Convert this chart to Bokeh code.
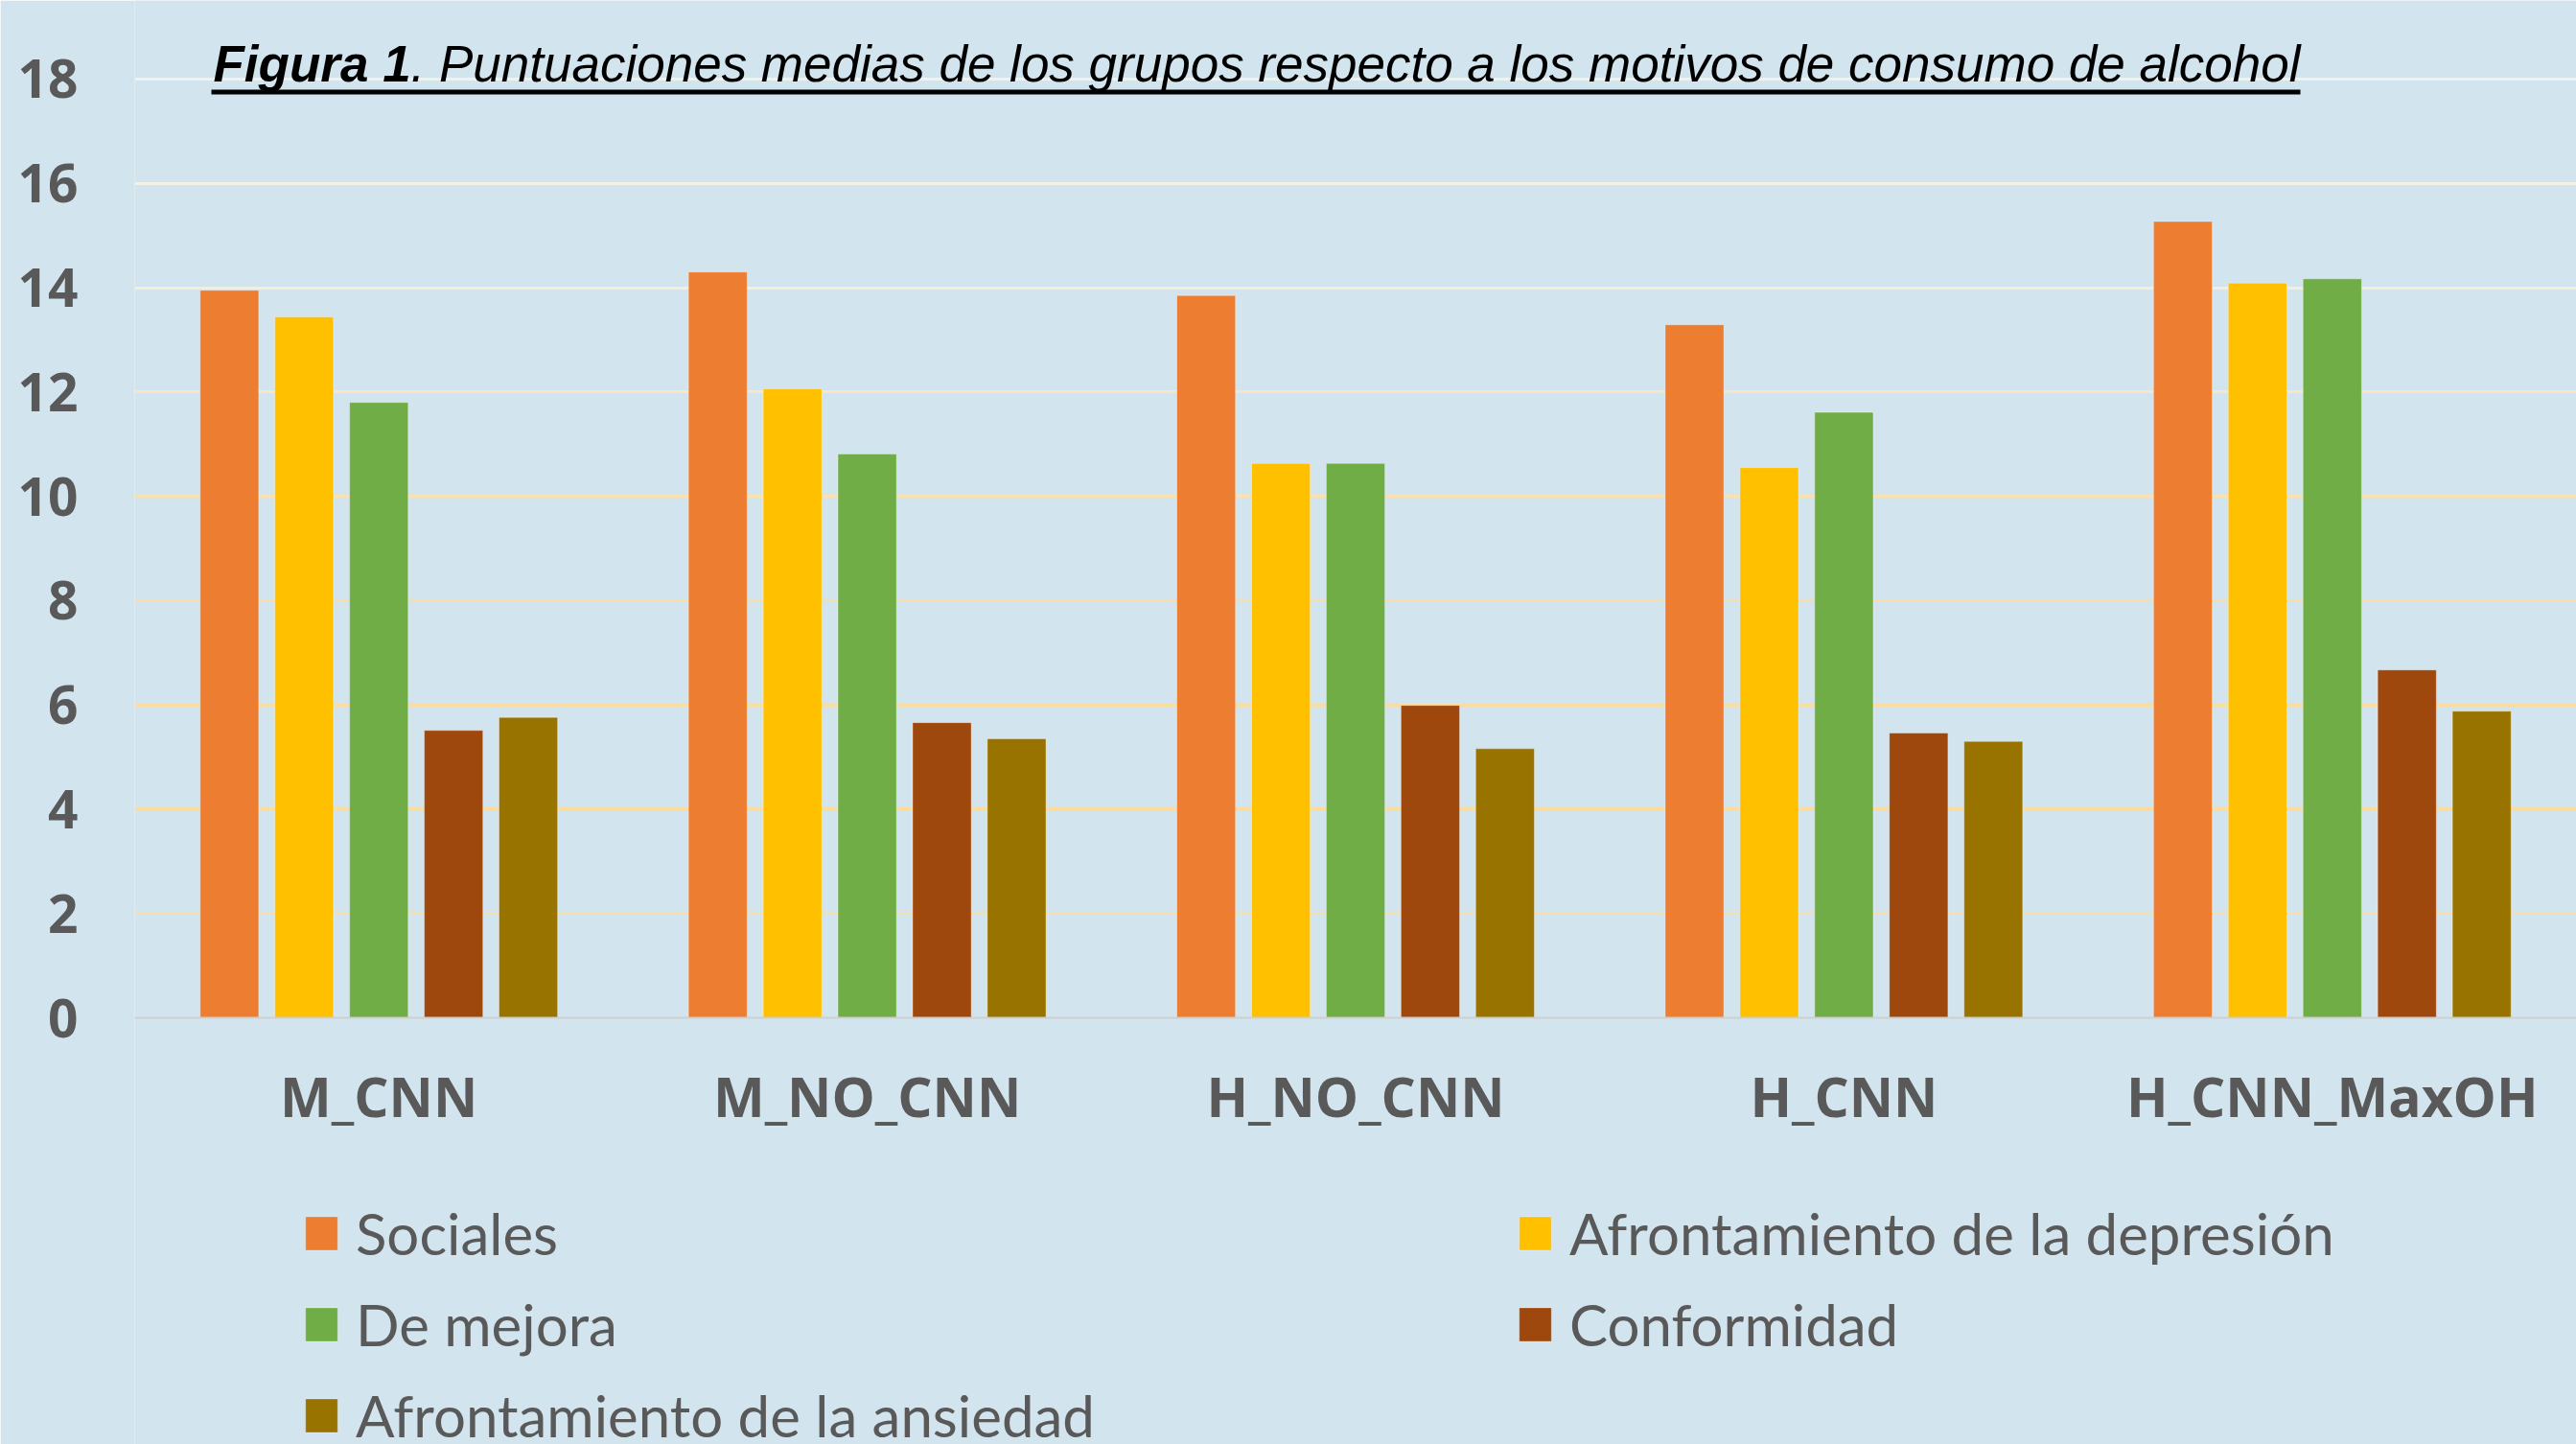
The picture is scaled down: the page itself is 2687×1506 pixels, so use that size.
from bokeh.plotting import figure
from bokeh.models import (FactorRange, Range1d, FixedTicker, Grid, Legend, LegendItem,
                          Label, BoxAnnotation, ColumnDataSource)
from bokeh.transform import dodge
from bokeh.embed import file_html
from bokeh.resources import INLINE

# ---------------- data ----------------
groups = ["M_CNN", "M_NO_CNN", "H_NO_CNN", "H_CNN", "H_CNN_MaxOH"]
series_names = ["Sociales", "Afrontamiento de la depresión", "De mejora",
                "Conformidad", "Afrontamiento de la ansiedad"]
sociales = [13.95, 14.30, 13.85, 13.29, 15.27]
depresion = [13.44, 12.06, 10.63, 10.55, 14.09]
mejora = [11.80, 10.81, 10.63, 11.61, 14.17]
conformidad = [5.51, 5.66, 5.99, 5.46, 6.67]
ansiedad = [5.76, 5.35, 5.16, 5.30, 5.88]
y_ticks = [0, 2, 4, 6, 8, 10, 12, 14, 16, 18]
title_bold = "Figura 1"
title_rest = ". Puntuaciones medias de los grupos  respecto a los motivos de consumo de alcohol"

# ---------------- style ----------------
colors = ["#ED7D31", "#FFC000", "#70AD47", "#9E480E", "#997300"]
grid_colors = {2: "#FADFA8", 4: "#FADC9F", 6: "#FADBA0", 8: "#FADDA6", 10: "#FAE1B2",
               12: "#FAE6C4", 14: "#F8EDD8", 16: "#F5F0E4", 18: "#F2F1EC"}
BG = "#D2E4EE"
TXT = "#595959"

W, H = 2687, 1506
FRAME_LEFT = 140
ZERO_Y = 1061          # canvas pixel row of value 0
PX_PER_UNIT = 54.39

p = figure(width=W, height=H, x_range=FactorRange(*groups),
           y_range=Range1d(-(H - ZERO_Y) / PX_PER_UNIT, ZERO_Y / PX_PER_UNIT),
           output_backend="svg", toolbar_location=None,
           min_border_left=FRAME_LEFT, min_border_right=0, min_border_top=0,
           min_border_bottom=0,
           background_fill_color=BG, border_fill_color=BG, outline_line_color=None)

p.xgrid.visible = False
p.ygrid.visible = False
for t in y_ticks[1:]:
    p.add_layout(Grid(dimension=1, ticker=FixedTicker(ticks=[t]),
                      grid_line_color=grid_colors[t], grid_line_width=3))

# axes
p.yaxis.ticker = FixedTicker(ticks=y_ticks)
p.yaxis.axis_line_color = None
p.yaxis.major_tick_line_color = None
p.yaxis.minor_tick_line_color = None
p.yaxis.major_tick_out = 0
p.yaxis.major_label_standoff = 59
p.yaxis.major_label_text_font = "Open Sans"
p.yaxis.major_label_text_font_style = "bold"
p.yaxis.major_label_text_font_size = "55px"
p.yaxis.major_label_text_color = TXT

p.xaxis.fixed_location = 0
p.xaxis.axis_line_color = "#CFCFCF"
p.xaxis.axis_line_width = 2
p.xaxis.major_tick_line_color = None
p.xaxis.minor_tick_line_color = None
p.xaxis.major_tick_out = 0
p.xaxis.major_label_standoff = 42
p.xaxis.major_label_text_font = "Open Sans"
p.xaxis.major_label_text_font_style = "bold"
p.xaxis.major_label_text_font_size = "57px"
p.xaxis.major_label_text_color = TXT

# bars
values = [sociales, depresion, mejora, conformidad, ansiedad]
step = 0.153
offsets = [(i - 2) * step for i in range(5)]
renderers = []
for i, (vals, col) in enumerate(zip(values, colors)):
    src = ColumnDataSource(dict(x=groups, top=vals))
    r = p.vbar(x=dodge("x", offsets[i], range=p.x_range), top="top", width=0.12,
               source=src, fill_color=col, line_color="white", line_alpha=0.35,
               line_width=1)
    renderers.append(r)

# legends
def make_legend(idx, loc):
    return Legend(items=[LegendItem(label=series_names[i], renderers=[renderers[i]]) for i in idx],
                  location=loc, orientation="vertical",
                  border_line_color=None, background_fill_alpha=0,
                  label_text_font="Lato", label_text_font_size="60px",
                  label_text_color=TXT, glyph_width=42, glyph_height=44,
                  label_standoff=15, spacing=23, padding=0, margin=0,
                  label_height=35)

p.add_layout(make_legend([0, 2, 4], (174, -6)), "center")
p.add_layout(make_legend([1, 3], (1440, 89)), "center")

# title
ty = H - 66
p.add_layout(Label(x=82, y=ty, x_units="screen", y_units="screen", text=title_bold,
                   text_font="Liberation Sans", text_font_style="bold italic",
                   text_font_size="53px", text_color="black", text_baseline="alphabetic"))
p.add_layout(Label(x=82 + 206, y=ty, x_units="screen", y_units="screen", text=title_rest,
                   text_font="Liberation Sans", text_font_style="italic",
                   text_font_size="53px", text_color="black", text_baseline="alphabetic"))
p.add_layout(BoxAnnotation(left=80, right=2259, top=H - 93, bottom=H - 98,
                           left_units="screen", right_units="screen",
                           top_units="screen", bottom_units="screen",
                           fill_color="black", fill_alpha=1, line_color=None))

open("out.html", "w").write(file_html(p, INLINE))
